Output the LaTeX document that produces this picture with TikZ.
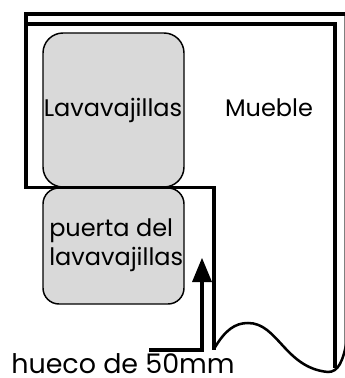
\documentclass[tikz,border=0pt]{standalone}
\usepackage{fontspec}
\setmainfont{Poppins}
\usetikzlibrary{arrows.meta}
\definecolor{boxgray}{RGB}{217,217,217}
\tikzset{
  appliance/.style={draw=black,line width=1.1pt,fill=boxgray,inner sep=0pt,text=black},
  wall/.style={draw=black,line width=2.3pt,line join=miter},
  label/.style={font=\fontsize{18}{21.75}\selectfont,text=black,inner sep=0pt}
}
\begin{document}
\begin{tikzpicture}[x=0.75pt,y=-0.75pt]
\useasboundingbox (0,0) rectangle (345,378);
\fill[white] (0,0) rectangle (345,378);
\clip (0,0) rectangle (345,378);
\draw[gray,line width=0.7pt] (344,14) -- (344,350);
\node[appliance,rounded corners=15pt,minimum width=105.75pt,minimum height=115.5pt] (lav) at (113.5,110) {};
\node[appliance,rounded corners=12pt,minimum width=105.75pt,minimum height=87pt] (door) at (113.5,246) {};
\draw[wall] (26,24) -- (26,14) -- (345,14);
\draw[wall] (335,368) -- (335,24) -- (26,24) -- (26,187.5) -- (214,187.5) -- (214,350);
\draw[draw=black,line width=1.9pt] (214,349) .. controls (225,330) and (235,323) .. (248,323) .. controls (278,323) and (285,368) .. (328,372) .. controls (338,372) and (343,362) .. (347,340);
\coordinate (tip) at (202,258);
\draw[draw=black,line width=2.3pt] (149,350) -- (202,350) -- (202,280);
\fill (tip) -- (212,282) -- (192,282) -- cycle;
\node[label,anchor=base] (t1) at (113,116) {Lavavajillas};
\node[label,anchor=base] (t2) at (269,116) {Mueble};
\node[label,anchor=base west] (t3a) at (49,236) {puerta del};
\node[label,anchor=base west] (t3b) at (49,265) {lavavajillas};
\node[label,anchor=base,font=\fontsize{20.2}{24}\selectfont] (t4) at (123,373.5) {hueco de 50mm};
\end{tikzpicture}
\end{document}
